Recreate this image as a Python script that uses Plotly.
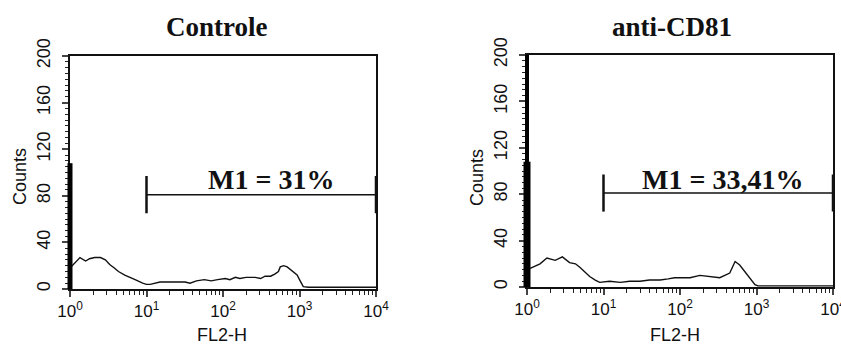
import plotly.graph_objects as go

# ---------------- data ----------------
titles = ["Controle", "anti-CD81"]
gate_labels = ["M1 = 31%", "M1 = 33,41%"]
gate_edges = [10, 10000]
gate_level = 81

ctrl_fl2 = [1.0, 1.1, 1.35, 1.6, 1.8, 2.1, 2.5, 2.9, 3.3, 3.8, 4.3, 5.2, 6.2, 7.1, 8.9, 10, 11.2, 13, 15,
            20, 25, 32, 37, 45, 57, 70, 85, 107, 123, 145, 166, 200, 263, 310, 355, 420, 480, 530, 560,
            620, 690, 790, 930, 1020, 1120, 1300, 2000, 5000, 10000]
ctrl_counts = [18, 21, 27, 24, 26, 27, 27, 25, 21, 18, 15, 12, 10, 8, 5, 4, 4, 5, 6,
               6, 6, 6, 5, 7, 8, 7, 8, 9, 8, 10, 9, 10, 10, 9, 11, 11, 13, 15, 19,
               20, 19, 16, 12, 7, 2, 1.5, 1.5, 1.5, 1.5]

cd81_fl2 = [1.0, 1.1, 1.48, 1.82, 2.34, 2.9, 3.6, 4.3, 4.9, 5.75, 6.6, 7.8, 8.9, 12, 16.6, 22, 30, 40,
            55, 70, 85, 117, 135, 182, 245, 331, 447, 525, 603, 708, 832, 955, 1047, 2000, 5000, 10000]
cd81_counts = [15, 16, 20, 25, 23, 26, 21, 20, 17, 13, 9, 6, 4, 5, 4, 5, 5, 6,
               6, 7, 8, 8, 8, 10, 9, 8, 12, 22, 19, 13, 8, 2, 1, 1, 1, 1]

x_tickvals = [1, 10, 100, 1000, 10000]
x_ticktext = ["10<sup>0</sup>", "10<sup>1</sup>", "10<sup>2</sup>", "10<sup>3</sup>", "10<sup>4</sup>"]
y_tickvals = [0, 40, 80, 120, 160, 200]
y_ticktext = ["0", "40", "80", "120", "160", "200"]

# ---------------- layout geometry ----------------
W, H = 841, 345
panels = [
    dict(x0=70, x1=376, ytop=56, ybot=289, thick_full=False),
    dict(x0=527, x1=833, ytop=55, ybot=287, thick_full=True),
]
series = [(ctrl_fl2, ctrl_counts), (cd81_fl2, cd81_counts)]

fig = go.Figure()
serif = "Liberation Serif, Times New Roman, serif"
sans = "Liberation Sans, Arial, sans-serif"


def note(x, y, text, size, family, angle=0):
    fig.add_annotation(x=x / W, y=(H - y) / H, xref="paper", yref="paper",
                       xanchor="center", yanchor="middle", text=text, textangle=angle,
                       showarrow=False, font=dict(family=family, size=size, color="#111"))


for i, p in enumerate(panels):
    xa = "x" if i == 0 else "x2"
    ya = "y" if i == 0 else "y2"
    xs, ys = series[i]
    fig.add_trace(go.Scatter(x=xs, y=ys, mode="lines", xaxis=xa, yaxis=ya,
                             line=dict(color="#111", width=1.4), showlegend=False))
    # gate bar
    fig.add_trace(go.Scatter(x=gate_edges, y=[gate_level, gate_level], mode="lines", xaxis=xa, yaxis=ya,
                             line=dict(color="#111", width=1.5), showlegend=False))
    for e in gate_edges:
        fig.add_trace(go.Scatter(x=[e, e], y=[gate_level - 16, gate_level + 16], mode="lines",
                                 xaxis=xa, yaxis=ya, line=dict(color="#111", width=2.5),
                                 showlegend=False))
    xd = [p["x0"] / W, p["x1"] / W]
    yd = [(H - p["ybot"]) / H, (H - p["ytop"]) / H]
    xkey = "xaxis" if i == 0 else "xaxis2"
    ykey = "yaxis" if i == 0 else "yaxis2"
    fig.update_layout(**{
        xkey: dict(domain=xd, type="log", range=[0, 4], anchor=ya, automargin=False,
                   tickvals=x_tickvals, ticktext=x_ticktext, ticks="outside", ticklen=6, tickwidth=1.5,
                   ticklabeloverflow="allow",
                   minor=dict(ticks="outside", ticklen=4, tickwidth=1.2, dtick="D1", tickcolor="#222"),
                   showline=True, linecolor="#111", linewidth=1.5, mirror=True,
                   showgrid=False, zeroline=False,
                   tickfont=dict(family=sans, size=17, color="#111")),
        ykey: dict(domain=yd, range=[0, 200], anchor=xa, automargin=False,
                   tickvals=y_tickvals, ticktext=y_ticktext, tickangle=-90,
                   ticks="outside", ticklen=6, tickwidth=1.5,
                   minor=dict(ticks="outside", ticklen=3, dtick=5, tickwidth=1.2, tickcolor="#222"),
                   showline=True, linecolor="#111", linewidth=1.8, mirror=True,
                   showgrid=False, zeroline=False, ticklabelstandoff=5,
                   tickfont=dict(family=sans, size=18, color="#111")),
    })
    # thick left axis line
    if p["thick_full"]:
        fig.add_shape(type="line", xref=f"{xa} domain", yref=f"{ya} domain",
                      x0=0, x1=0, y0=0, y1=1, line=dict(color="#000", width=4), layer="above")
    fig.add_shape(type="line", xref=f"{xa} domain", yref=f"{ya} domain",
                  x0=0, x1=0, y0=0, y1=0.54, line=dict(color="#000", width=5 if i == 0 else 7),
                  layer="above")
    note(217 if i == 0 else 672, 27, f"<b>{titles[i]}</b>", 27, serif)
    note(271 if i == 0 else 722, 179, f"<b>{gate_labels[i]}</b>", 28, serif)
    note(20 if i == 0 else 477, 177, "Counts", 18, sans, -90)
    note(222 if i == 0 else 675, 335, "FL2-H", 18, sans)

fig.update_layout(width=W, height=H, margin=dict(l=0, r=0, t=0, b=0, autoexpand=False),
                  paper_bgcolor="white", plot_bgcolor="white", showlegend=False)

fig.write_html("out.html")
